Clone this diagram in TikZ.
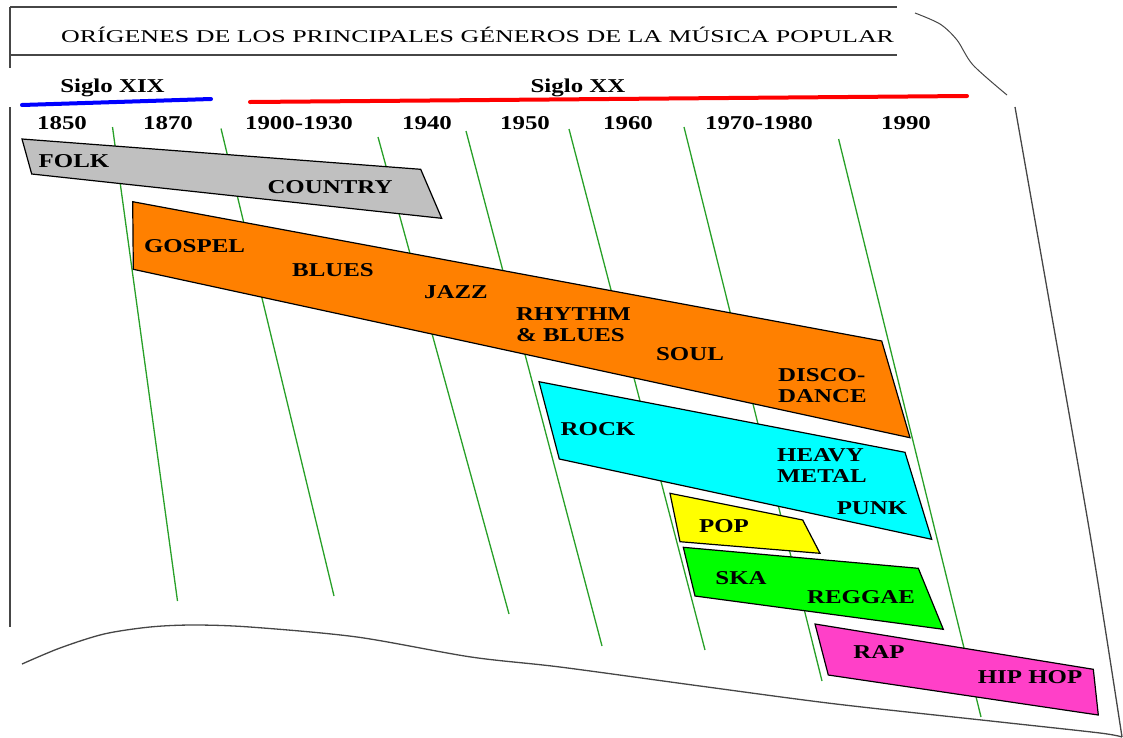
\documentclass[tikz,border=0pt]{standalone}
\usepackage{fontspec}
\setmainfont{Liberation Serif}
\newfontfamily\lblfont{Liberation Serif}[FakeStretch=1.27]
\newfontfamily\ttlfont{Liberation Serif}[FakeStretch=1.44]
\definecolor{gline}{RGB}{40,160,40}
\definecolor{cgray}{RGB}{192,192,192}
\definecolor{corange}{RGB}{255,128,0}
\definecolor{ccyan}{RGB}{0,255,255}
\definecolor{cyellow}{RGB}{255,255,0}
\definecolor{cgreen}{RGB}{0,255,0}
\definecolor{cmagenta}{RGB}{255,64,200}
\definecolor{cblue}{RGB}{0,0,255}
\definecolor{cred}{RGB}{255,0,0}
\definecolor{frameline}{RGB}{70,70,70}
\begin{document}
\begin{tikzpicture}[x=1pt,y=-1pt,
  lbl/.style={font=\lblfont\bfseries\fontsize{19.6}{21}\selectfont, inner sep=0pt, anchor=base},
  mlbl/.style={font=\lblfont\bfseries\fontsize{19.6}{21}\selectfont, inner sep=0pt, anchor=north west, align=left},
  ttl/.style={font=\ttlfont\fontsize{18}{20}\selectfont, inner sep=0pt, anchor=base west},
  gridline/.style={draw=gline, line width=1.3pt},
  band/.style={draw=black, line width=1.2pt, line join=miter},
  frame/.style={draw=frameline, line width=1.3pt},
  era/.style={line width=4pt, line cap=round}]
\useasboundingbox (0,0) rectangle (1123,737);

% frame
\coordinate (t1) at (10,7);
\coordinate (t2) at (897,7);
\coordinate (b1) at (10,55);
\coordinate (b2) at (897,55);
\draw[frame] (t1) -- (t2);
\draw[frame] (b1) -- (b2);
\draw[frame] (10,7) -- (10,68);
\draw[frame] (10,107) -- (10,627);
\draw[frame, line width=1pt] plot[smooth] coordinates {(915,13) (940,24) (957,40) (973,65) (1007,95)};
\draw[frame] plot[smooth] coordinates {(1015,107) (1049,300) (1091,540) (1122,737)};
\draw[frame] plot[smooth] coordinates {(22,664) (60,648) (104,634) (150,627) (193,625) (250,627) (357,637) (471,657) (560,667) (700,686) (836,704) (1000,722) (1100,733) (1122,737)};

% title
\node[ttl] (title) at (61,42) {ORÍGENES DE LOS PRINCIPALES GÉNEROS DE LA MÚSICA POPULAR};

% centuries
\node[lbl] (s19) at (112.5,92) {Siglo XIX};
\node[lbl] (s20) at (578,92) {Siglo XX};
\coordinate (bl1) at (22,105);
\coordinate (bl2) at (211,99);
\coordinate (rd1) at (250,102);
\coordinate (rd2) at (967,96);
\draw[era, cblue] (bl1) -- (bl2);
\draw[era, cred] (rd1) -- (rd2);

% years
\node[lbl] (y1850) at (62,129) {1850};
\node[lbl] (y1870) at (168,129) {1870};
\node[lbl] (y1900) at (299,129) {1900-1930};
\node[lbl] (y1940) at (427,129) {1940};
\node[lbl] (y1950) at (525,129) {1950};
\node[lbl] (y1960) at (628,129) {1960};
\node[lbl] (y1970) at (759,129) {1970-1980};
\node[lbl] (y1990) at (906,129) {1990};

% green time lines
\coordinate (g1a) at (112.5,127); \coordinate (g1b) at (177.5,601);
\coordinate (g2a) at (221,128.5); \coordinate (g2b) at (334,596);
\coordinate (g3a) at (378,137);   \coordinate (g3b) at (509,614);
\coordinate (g4a) at (466,131);   \coordinate (g4b) at (602,646);
\coordinate (g5a) at (569,129);   \coordinate (g5b) at (705,650);
\coordinate (g6a) at (684,127);   \coordinate (g6b) at (822,681);
\coordinate (g7a) at (838.6,139); \coordinate (g7b) at (981,717);
\foreach \i in {1,...,7} {\draw[gridline] (g\i a) -- (g\i b);}

% bands
\filldraw[band, fill=cgray] (22,139) -- (420.7,169.3) -- (441.7,218.3) -- (31.7,174) -- cycle;
\filldraw[band, fill=corange] (132.7,201.7) -- (881.7,341) -- (910,437.7) -- (133.3,269.3) -- cycle;
\filldraw[band, fill=ccyan] (539,381.7) -- (905,452.3) -- (931.7,539.3) -- (559.3,459) -- cycle;
\filldraw[band, fill=cyellow] (670,493.3) -- (802.7,520) -- (820,553.3) -- (680,541.7) -- cycle;
\filldraw[band, fill=cgreen] (683.3,547.3) -- (918.3,568.3) -- (943.3,629.3) -- (695,596) -- cycle;
\filldraw[band, fill=cmagenta] (815,624) -- (1093.3,669.3) -- (1098.3,715) -- (828.3,675) -- cycle;

% genre labels
\node[lbl] (folk) at (74,167) {FOLK};
\node[lbl] (country) at (330,193) {COUNTRY};
\node[lbl] (gospel) at (194.5,252) {GOSPEL};
\node[lbl] (blues) at (333,276) {BLUES};
\node[lbl] (jazz) at (456,298) {JAZZ};
\node[mlbl] (rnb) at (516,307) {RHYTHM\\\& BLUES};
\node[lbl] (soul) at (690,360) {SOUL};
\node[mlbl] (disco) at (778,368) {DISCO-\\DANCE};
\node[lbl] (rock) at (598,435) {ROCK};
\node[mlbl] (metal) at (777,448) {HEAVY\\METAL};
\node[lbl] (punk) at (872,514) {PUNK};
\node[lbl] (pop) at (724,532) {POP};
\node[lbl] (ska) at (741,584) {SKA};
\node[lbl] (reggae) at (861,603) {REGGAE};
\node[lbl] (rap) at (879,658) {RAP};
\node[lbl] (hiphop) at (1030,683) {HIP HOP};
\end{tikzpicture}
\end{document}
